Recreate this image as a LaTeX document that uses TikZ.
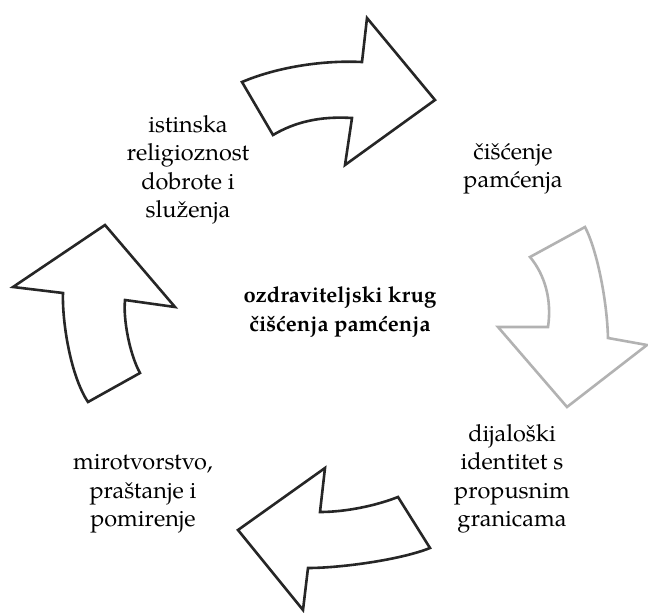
\documentclass[tikz,border=0pt]{standalone}
\usepackage{fontspec}
\setmainfont{TeX Gyre Pagella}
\begin{document}
\begin{tikzpicture}[x=1pt,y=-1pt,
  blk/.style={draw=black!85,line width=2.6pt,line join=miter,fill=white},
  gry/.style={draw=black!30,line width=2.6pt,line join=miter,fill=white},
  lbl/.style={align=center,font=\fontsize{23.5}{28.5}\selectfont,inner sep=0pt},
  ctr/.style={align=center,font=\fontsize{22}{29}\selectfont\bfseries,inner sep=0pt}]
\useasboundingbox (0,0) rectangle (648,613);
% top arrow
\draw[blk] (242,82) .. controls (275,68) and (320,60) .. (362,62) -- (367,18) -- (435,100) -- (345,165) -- (352,118) .. controls (320,116) and (295,122) .. (273,135) -- cycle;
% right arrow
\draw[gry] (530,257) -- (585,227) .. controls (597,250) and (607,300) .. (608,338) -- (647,345) -- (567,407) -- (498,327) -- (548,327) .. controls (552,300) and (545,275) .. (530,257) -- cycle;
% bottom arrow
\draw[blk] (238,530) -- (325,468) -- (320,512) .. controls (345,512) and (375,506) .. (398,497) -- (430,548) .. controls (400,560) and (340,568) .. (308,568) -- (303,610) -- cycle;
% left arrow
\draw[blk] (105,225) -- (175,307) -- (125,300) .. controls (123,320) and (130,355) .. (140,373) -- (88,402) .. controls (70,375) and (62,320) .. (63,293) -- (13,287) -- cycle;
% labels
\node[lbl] (a) at (188,170) {istinska\\religioznost\\dobrote i\\služenja};
\node[lbl] (b) at (513,169) {čišćenje\\pamćenja};
\node[ctr] (c) at (340,312) {ozdraviteljski krug\\čišćenja pamćenja};
\node[lbl] (d) at (512,479) {dijaloški\\identitet s\\propusnim\\granicama};
\node[lbl] (e) at (143,494) {mirotvorstvo,\\praštanje i\\pomirenje};
\end{tikzpicture}
\end{document}
